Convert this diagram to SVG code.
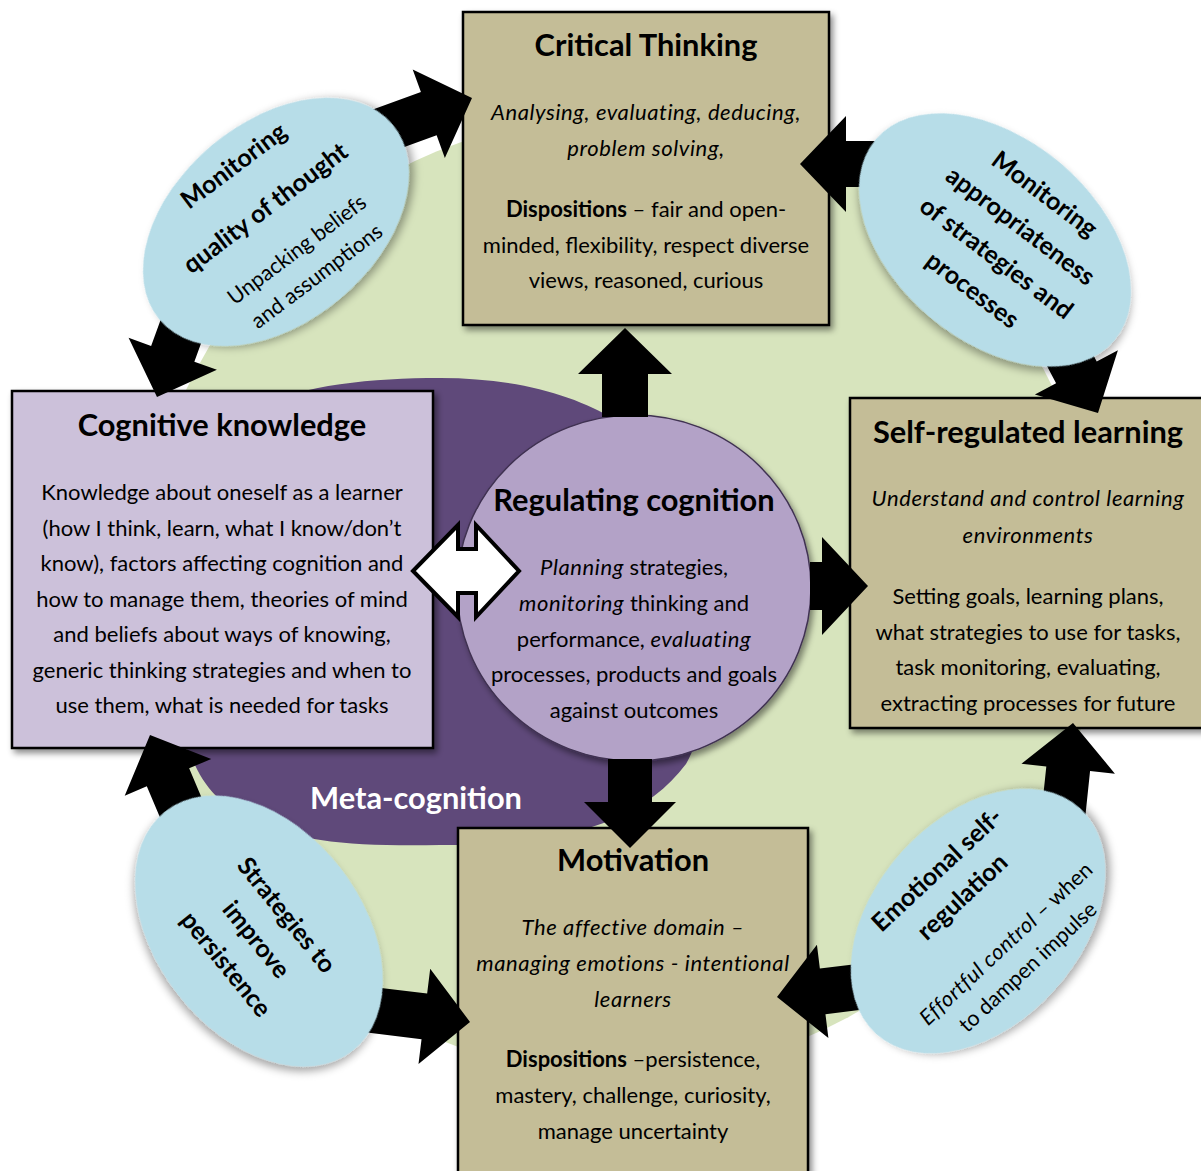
<svg xmlns="http://www.w3.org/2000/svg" width="1201" height="1171" viewBox="0 0 1201 1171">
  <defs>
    <filter id="shadow" x="-10%" y="-10%" width="125%" height="125%">
      <feDropShadow dx="3" dy="4" stdDeviation="3" flood-color="#000" flood-opacity="0.45"/>
    </filter>
    <filter id="ovalShadow" x="-15%" y="-15%" width="135%" height="135%">
      <feDropShadow dx="3" dy="4" stdDeviation="4" flood-color="#000" flood-opacity="0.35"/>
    </filter>
  </defs>
  <style>
    text { font-family: Lato, "Open Sans", "DejaVu Sans", sans-serif; fill: #000; }
    .tan { fill: #c4bd97; stroke: #000; stroke-width: 2.5; filter: url(#shadow); }
    .lilac { fill: #ccc1da; stroke: #000; stroke-width: 2.5; filter: url(#shadow); }
    .title { font-weight: 700; font-size: 30.8px; text-anchor: middle; }
    .body { font-size: 22px; text-anchor: middle; }
    .it { font-style: italic; letter-spacing: 0.6px; }
    .b { font-weight: 700; }
    .oval { fill: #b7dde8; filter: url(#ovalShadow); }
    .obold { font-weight: 700; font-size: 25px; text-anchor: middle; }
    .oreg { font-size: 21.5px; text-anchor: middle; }
    .arrow { fill: #000; }
    .twoway { fill: #fff; stroke: #000; stroke-width: 4; stroke-linejoin: miter; }
  </style>

  <!-- pale green backdrop disc -->
  <g id="backdrop">
    <circle cx="620" cy="595" r="480" fill="#d7e4bd"/>
  </g>

  <!-- meta-cognition region -->
  <g id="metacognition">
    <path d="M 440 378 C 515 378 575 395 615 420 C 700 470 735 680 686 764 C 640 825 560 845 440 845 C 300 848 225 830 195 765 C 150 700 150 470 250 410 C 300 385 370 378 440 378 Z" fill="#5f497a"/>
    <text x="416" y="809" class="title" style="fill:#fff">Meta-cognition</text>
  </g>

  <g id="critical-thinking">
    <rect x="463" y="12" width="366" height="313" class="tan"/>
    <text class="title" x="646" y="56">Critical Thinking</text>
    <text class="body it" x="646" y="120">Analysing, evaluating, deducing,</text>
    <text class="body it" x="646" y="156">problem solving,</text>
    <text class="body" x="646" y="217"><tspan class="b">Dispositions</tspan> – fair and open-</text>
    <text class="body" x="646" y="253">minded, flexibility, respect diverse</text>
    <text class="body" x="646" y="288">views, reasoned, curious</text>
  </g>

  <g id="cognitive-knowledge">
    <rect x="12" y="391" width="421" height="357" class="lilac"/>
    <text class="title" x="222" y="436">Cognitive knowledge</text>
    <text class="body" x="222" y="500">Knowledge about oneself as a learner</text>
    <text class="body" x="222" y="536">(how I think, learn, what I know/don’t</text>
    <text class="body" x="222" y="571">know), factors affecting cognition and</text>
    <text class="body" x="222" y="607">how to manage them, theories of mind</text>
    <text class="body" x="222" y="642">and beliefs about ways of knowing,</text>
    <text class="body" x="222" y="678">generic thinking strategies and when to</text>
    <text class="body" x="222" y="713">use them, what is needed for tasks</text>
  </g>

  <g id="self-regulated-learning">
    <rect x="850" y="398" width="360" height="330" class="tan"/>
    <text class="title" x="1028" y="443">Self-regulated learning</text>
    <text class="body it" x="1028" y="506">Understand and control learning</text>
    <text class="body it" x="1028" y="543">environments</text>
    <text class="body" x="1028" y="604">Setting goals, learning plans,</text>
    <text class="body" x="1028" y="640">what strategies to use for tasks,</text>
    <text class="body" x="1028" y="675">task monitoring, evaluating,</text>
    <text class="body" x="1028" y="711">extracting processes for future</text>
  </g>

  <g id="motivation">
    <rect x="458" y="828" width="350" height="360" class="tan"/>
    <text class="title" x="633" y="871">Motivation</text>
    <text class="body it" x="633" y="935">The affective domain –</text>
    <text class="body it" x="633" y="971">managing emotions - intentional</text>
    <text class="body it" x="633" y="1007">learners</text>
    <text class="body" x="633" y="1067"><tspan class="b">Dispositions</tspan> –persistence,</text>
    <text class="body" x="633" y="1103">mastery, challenge, curiosity,</text>
    <text class="body" x="633" y="1139">manage uncertainty</text>
  </g>

  <g id="regulating-cognition">
    <ellipse cx="634" cy="588" rx="177" ry="173" fill="#b3a2c7" stroke="#3f3151" stroke-width="1.5" filter="url(#shadow)"/>
    <text class="title" x="634" y="511">Regulating cognition</text>
    <text class="body" x="634" y="575"><tspan class="it">Planning</tspan> strategies,</text>
    <text class="body" x="634" y="611"><tspan class="it">monitoring</tspan> thinking and</text>
    <text class="body" x="634" y="647">performance, <tspan class="it">evaluating</tspan></text>
    <text class="body" x="634" y="682">processes, products and goals</text>
    <text class="body" x="634" y="718">against outcomes</text>
  </g>

  <!-- block arrows: each drawn with its tip at the origin, pointing along +x -->
  <g id="connectors">
    <polygon class="arrow" transform="translate(472,98) rotate(-20)" points="-103,-23 -46,-23 -46,-47 0,0 -46,47 -46,23 -103,23"/>
    <polygon class="arrow" transform="translate(157,397) rotate(110)" points="-105,-23 -46,-23 -46,-47 0,0 -46,47 -46,23 -105,23"/>
    <polygon class="arrow" transform="translate(625,328) rotate(-90)" points="-89,-23 -46,-23 -46,-47 0,0 -46,47 -46,23 -89,23"/>
    <polygon class="arrow" transform="translate(868,586)" points="-58,-24 -46,-24 -46,-49 0,0 -46,49 -46,24 -58,24"/>
    <polygon class="arrow" transform="translate(630,848) rotate(90)" points="-89,-22 -46,-22 -46,-46 0,0 -46,46 -46,22 -89,22"/>
    <polygon class="arrow" transform="translate(800,164) rotate(180)" points="-95,-23 -46,-23 -46,-48 0,0 -46,48 -46,23 -95,23"/>
    <polygon class="arrow" transform="translate(1098,413) rotate(62)" points="-94,-23 -46,-23 -46,-47 0,0 -46,47 -46,23 -94,23"/>
    <polygon class="arrow" transform="translate(1073,723) rotate(-84)" points="-108,-22 -46,-22 -46,-47 0,0 -46,47 -46,22 -108,22"/>
    <polygon class="arrow" transform="translate(777,997) rotate(173)" points="-94,-23 -46,-23 -46,-47 0,0 -46,47 -46,23 -94,23"/>
    <polygon class="arrow" transform="translate(470,1022) rotate(7)" points="-105,-23 -46,-23 -46,-48 0,0 -46,48 -46,23 -105,23"/>
    <polygon class="arrow" transform="translate(150,735) rotate(-113)" points="-105,-23 -46,-23 -46,-47 0,0 -46,47 -46,23 -105,23"/>
    <!-- two-way link between knowledge and regulation -->
    <polygon class="twoway" points="413,571 458,525 458,549 476,549 476,525 519,571 476,617 476,593 458,593 458,617"/>
  </g>

  <g id="monitoring-thought">
    <ellipse class="oval" cx="276" cy="222" rx="152" ry="100" transform="rotate(-40 276 222)"/>
    <g transform="translate(276,222) rotate(-37)">
      <text class="obold" x="0" y="-62">Monitoring</text>
      <text class="obold" x="0" y="-9">quality of thought</text>
      <text class="oreg" x="0" y="42">Unpacking beliefs</text>
      <text class="oreg" x="0" y="75">and assumptions</text>
    </g>
  </g>

  <g id="monitoring-strategies">
    <ellipse class="oval" cx="995" cy="240" rx="156" ry="101" transform="rotate(40 995 240)"/>
    <g transform="translate(995,240) rotate(37)">
      <text class="obold" x="12" y="-58">Monitoring</text>
      <text class="obold" x="12" y="-18">appropriateness</text>
      <text class="obold" x="12" y="22">of strategies and</text>
      <text class="obold" x="12" y="62">processes</text>
    </g>
  </g>

  <g id="persistence-strategies">
    <ellipse class="oval" cx="259" cy="931" rx="152" ry="103" transform="rotate(52 259 931)"/>
    <g transform="translate(259,931) rotate(51)">
      <text class="obold" x="5" y="-23">Strategies to</text>
      <text class="obold" x="5" y="16">improve</text>
      <text class="obold" x="5" y="55">persistence</text>
    </g>
  </g>

  <g id="emotional-regulation">
    <ellipse class="oval" cx="978" cy="921" rx="152" ry="103" transform="rotate(-48 978 921)"/>
    <g transform="translate(978,921) rotate(-43)">
      <text class="obold" x="5" y="-57">Emotional self-</text>
      <text class="obold" x="5" y="-20">regulation</text>
      <text class="oreg" x="5" y="43"><tspan class="it">Effortful control</tspan> – when</text>
      <text class="oreg" x="5" y="75">to dampen impulse</text>
    </g>
  </g>
</svg>
